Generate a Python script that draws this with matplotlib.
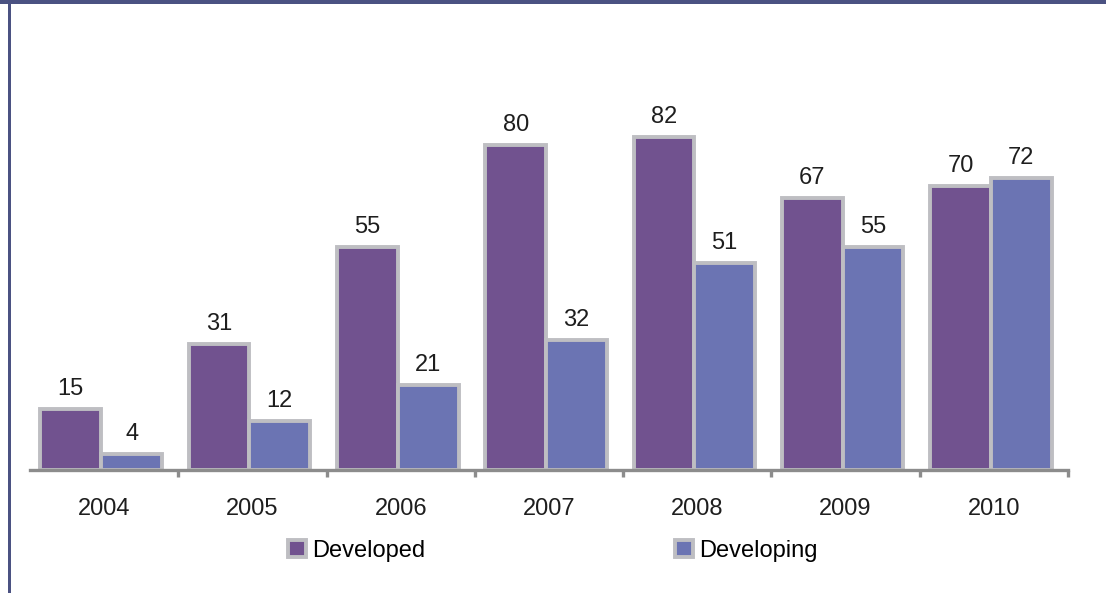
import numpy as np
import matplotlib.pyplot as plt
from matplotlib.patches import Rectangle

years = ['2004', '2005', '2006', '2007', '2008', '2009', '2010']
developed = [15, 31, 55, 80, 82, 67, 70]
developing = [4, 12, 21, 32, 51, 55, 72]

c_dev = '#71528f'
c_ing = '#6b74b3'
c_edge = '#bebec2'
c_frame = '#4b5282'
c_text = '#1e1e1e'

plt.rcParams['font.family'] = ['Liberation Sans', 'DejaVu Sans']

W, H = 1106, 593
fig = plt.figure(figsize=(W / 100, H / 100), dpi=100)
ax = fig.add_axes([30 / W, 123 / H, (1068 - 30) / W, 406 / H])

x = np.arange(len(years))
bw = 0.41
b1 = ax.bar(x - bw / 2 - 0.02, developed, bw, color=c_dev, edgecolor=c_edge,
            linewidth=2.8, label='Developed')
b2 = ax.bar(x + bw / 2 - 0.02, developing, bw, color=c_ing, edgecolor=c_edge,
            linewidth=2.8, label='Developing')

for bars, vals in [(b1, developed), (b2, developing)]:
    for r, v in zip(bars, vals):
        ax.annotate(str(v), (r.get_x() + r.get_width() / 2, v),
                    xytext=(0, 10), textcoords='offset points',
                    ha='center', va='baseline', fontsize=17, color=c_text)

ax.set_xlim(-0.5, len(years) - 0.5)
ax.set_ylim(0, 100)
for s in ['top', 'right', 'left']:
    ax.spines[s].set_visible(False)
ax.spines['bottom'].set_color('#8c8c8c')
ax.spines['bottom'].set_linewidth(2.4)
ax.set_yticks([])

# ticks sit between the year groups, labels centred under them
ax.set_xticks(x + 0.5)
ax.set_xticklabels([])
ax.tick_params(axis='x', direction='out', length=5, width=2.4, color='#8c8c8c')
ax.set_xticks(x, minor=True)
ax.set_xticklabels(years, minor=True, fontsize=17, color=c_text)
ax.tick_params(axis='x', which='minor', length=0, pad=20)

fig.legend(handles=[b1, b2], loc='center', bbox_to_anchor=(553 / W, 1 - 551 / H),
           ncol=2, frameon=False, fontsize=17, handlelength=0.75,
           handleheight=0.75, handletextpad=0.25, columnspacing=10.6)

# dark frame lines along the top and left edges
fig.add_artist(Rectangle((0, 1 - 4 / H), 1, 4 / H, transform=fig.transFigure,
                         color=c_frame, lw=0))
fig.add_artist(Rectangle((8 / W, 0), 3 / W, 1, transform=fig.transFigure,
                         color=c_frame, lw=0))

fig.savefig('out.png', dpi=100)
